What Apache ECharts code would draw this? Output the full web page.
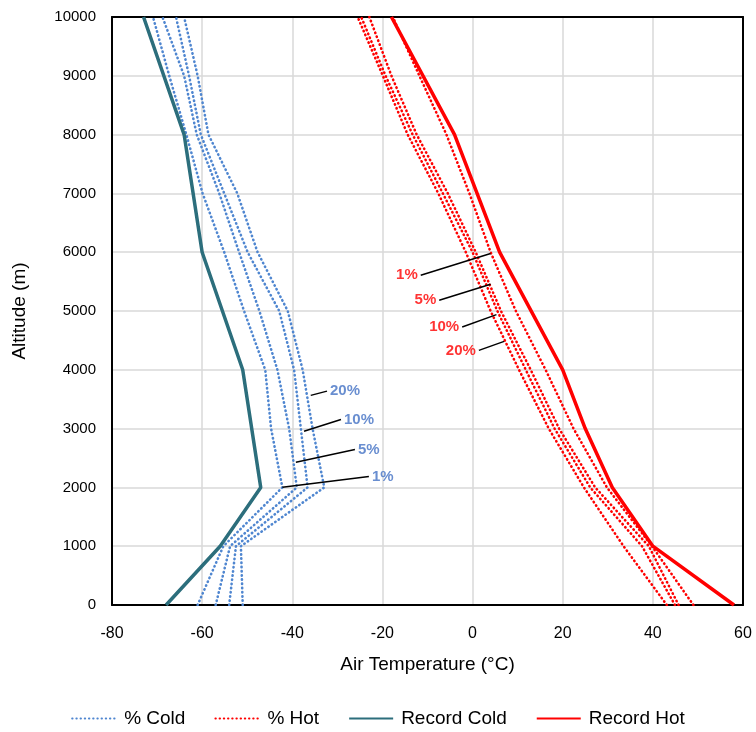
<!DOCTYPE html>
<html><head><meta charset="utf-8">
<script src="https://cdn.jsdelivr.net/npm/echarts@6/dist/echarts.min.js"></script>
<style>html,body{margin:0;padding:0;background:#fff}#c{width:756px;height:732px}</style>
</head><body><div id="c"></div>
<script>
// Altitudes for percentile profiles (m)
const altitudes = [0,1000,2000,3000,4000,5000,6000,7000,8000,9000,10000];
// % Cold profiles (°C)
const cold1  = [-61, -55.3, -42.2, -44.7, -46.0, -50.7, -55.1, -59.9, -63.5, -67.3, -70.9];
const cold5  = [-57, -53.8, -39.0, -40.7, -43.3, -47.3, -51.8, -56.2, -61.2, -64.0, -68.8];
const cold10 = [-54, -52.5, -36.6, -38.1, -39.6, -42.9, -49.9, -55.1, -60.3, -62.9, -65.8];
const cold20 = [-51, -51.4, -32.9, -35.5, -37.7, -41.0, -47.7, -52.2, -58.6, -61.0, -64.0];
// % Hot profiles (°C)
const hot1  = [49.0, 39.8, 29.8, 22.4, 16.2, 9.6, 4.0, -0.7, -5.8, -11.8, -17.7];
const hot5  = [45.7, 39.1, 27.2, 19.2, 12.9, 6.3, 0.7, -5.5, -12.4, -18.0, -22.9];
const hot10 = [44.9, 37.6, 26.1, 18.2, 11.8, 5.5, 0.0, -6.6, -13.3, -19.3, -24.7];
const hot20 = [43.1, 33.5, 24.7, 16.9, 10.3, 4.0, -1.5, -7.6, -14.4, -19.9, -25.5];
// Record profiles
const recColdAlt  = [0,1000,2000,4000,6000,8000,10000];
const recColdTemp = [-68,-56,-47,-51,-60,-64,-73];
const recHotAlt   = [0,1000,2000,3000,4000,6000,8000,10000];
const recHotTemp  = [58,40,31,25,20,6,-4,-18];
// Annotation labels: text, anchor [temp, alt], leader end [temp, alt]
const coldLabels = ['20%','10%','5%','1%'];
const coldAnchors = [[-35.9,3565],[-37.4,2956],[-39.2,2428],[-42.2,2002]];
const coldEnds    = [[-32.3,3637],[-29.2,3155],[-26.1,2644],[-23.0,2185]];
const hotLabels = ['1%','5%','10%','20%'];
const hotAnchors = [[4.0,5977],[4.0,5454],[5.3,4938],[7.0,4483]];
const hotEnds    = [[-11.5,5607],[-7.4,5182],[-2.3,4727],[1.4,4330]];
// Axes
const xMin=-80, xMax=60, xStep=20, yMin=0, yMax=10000, yStep=1000;

const FONT = 'Liberation Sans, Arial, sans-serif';
const coldColor = '#4f86d0', hotColor = '#ff0000', teal = '#2c6e7c';
const pair = (xs, ys) => xs.map((x,i)=>[x, ys[i]]);

function dotted(name, temps, color){
  return {name, type:'line', data: pair(temps, altitudes), symbol:'none', silent:true,
    lineStyle:{color, width:2.6, type:[0.4,3.8], cap:'round'}, itemStyle:{color}, z:2};
}
function leaders(anchors, ends){
  return {type:'line', data:[], silent:true, z:5,
    markLine:{silent:true, symbol:'none', animation:false,
      lineStyle:{color:'#000', width:1.5, type:'solid'}, label:{show:false},
      data: anchors.map((a,i)=>[{coord:a},{coord:ends[i]}])}};
}
function labelSeries(texts, ends, color, align){
  return {type:'scatter', symbolSize:0, silent:true, z:6,
    data: ends.map((e,i)=>({value:e, name:texts[i]})),
    label:{show:true, formatter:p=>p.name, color, fontWeight:'bold', fontSize:15, fontFamily:FONT,
      position: align==='left'?'right':'left', distance:3}};
}

const chart = echarts.init(document.getElementById('c'), null, {renderer:'canvas'});
chart.setOption({
  animation:false,
  textStyle:{fontFamily:FONT},
  grid:{left:112, right:13, top:17, bottom:127},
  xAxis:[{type:'value', min:xMin, max:xMax, interval:xStep,
    name:'Air Temperature (°C)', nameLocation:'middle', nameGap:50,
    nameTextStyle:{fontSize:19, color:'#000', fontFamily:FONT},
    axisLine:{show:true, lineStyle:{color:'#000', width:2}}, axisTick:{show:false},
    axisLabel:{fontSize:16, color:'#000', margin:21, fontFamily:FONT},
    splitLine:{show:true, lineStyle:{color:'#d9d9d9', width:1.5}}},
   {type:'value', position:'top', min:xMin, max:xMax, interval:xStep,
    axisLine:{show:true, onZero:false, lineStyle:{color:'#000', width:2}}, axisTick:{show:false},
    axisLabel:{show:false}, splitLine:{show:false}}],
  yAxis:[{type:'value', min:yMin, max:yMax, interval:yStep,
    name:'Altitude (m)', nameLocation:'middle', nameGap:83, nameRotate:90,
    nameTextStyle:{fontSize:19, color:'#000', fontFamily:FONT},
    axisLine:{show:true, onZero:false, lineStyle:{color:'#000', width:2}}, axisTick:{show:false},
    axisLabel:{fontSize:15, color:'#000', margin:16, fontFamily:FONT, formatter:v=>String(v)},
    splitLine:{show:true, lineStyle:{color:'#d9d9d9', width:1.5}}},
   {type:'value', position:'right', min:yMin, max:yMax, interval:yStep,
    axisLine:{show:true, onZero:false, lineStyle:{color:'#000', width:2}}, axisTick:{show:false},
    axisLabel:{show:false}, splitLine:{show:false}}],
  legend:{top:704, left:'center', itemWidth:44, itemHeight:12, itemGap:29,
    itemStyle:{opacity:0},
    data:['% Cold','% Hot','Record Cold','Record Hot'],
    textStyle:{fontSize:19, color:'#000', fontFamily:FONT, padding:[0,0,0,3]}},
  series:[
    dotted('% Cold', cold1, coldColor), dotted('% Cold', cold5, coldColor),
    dotted('% Cold', cold10, coldColor), dotted('% Cold', cold20, coldColor),
    dotted('% Hot', hot1, hotColor), dotted('% Hot', hot5, hotColor),
    dotted('% Hot', hot10, hotColor), dotted('% Hot', hot20, hotColor),
    {name:'Record Cold', type:'line', data:pair(recColdTemp, recColdAlt), symbol:'none', silent:true,
      lineStyle:{color:teal, width:3.5}, itemStyle:{color:teal}, z:3},
    {name:'Record Hot', type:'line', data:pair(recHotTemp, recHotAlt), symbol:'none', silent:true,
      lineStyle:{color:hotColor, width:3.5}, itemStyle:{color:hotColor}, z:3},
    leaders(coldAnchors, coldEnds), leaders(hotAnchors, hotEnds),
    labelSeries(coldLabels, coldEnds, '#4472c4', 'left'),
    labelSeries(hotLabels, hotEnds, '#ff0000', 'right')
  ]
});
</script></body></html>
